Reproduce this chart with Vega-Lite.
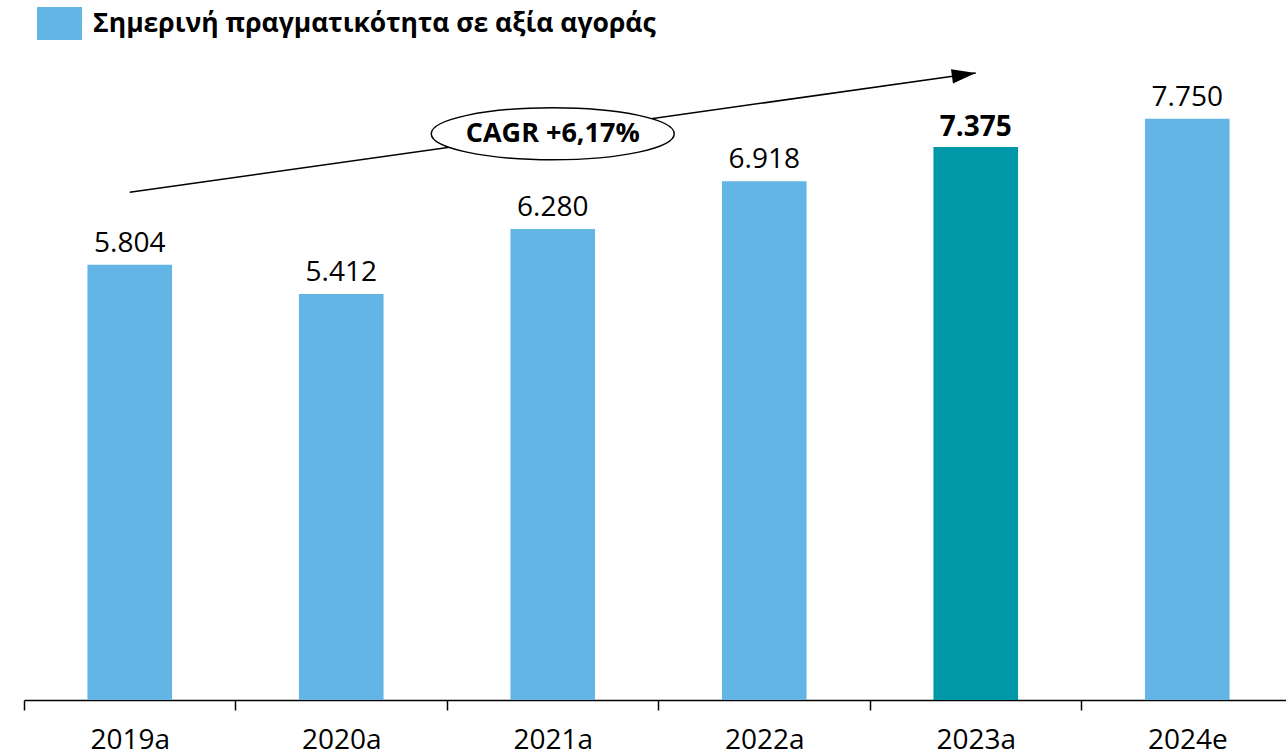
{
  "$schema": "https://vega.github.io/schema/vega-lite/v6.json",
  "width": 1269,
  "height": 675,
  "autosize": "none",
  "padding": {"left": 24, "top": 25, "right": 0, "bottom": 56},
  "background": "white",
  "config": {"view": {"stroke": null}, "font": "Open Sans"},
  "datasets": {
    "bars": [
      {"year": "2019a", "value": 5.804, "series": "Σημερινή πραγματικότητα σε αξία αγοράς"},
      {"year": "2020a", "value": 5.412, "series": "Σημερινή πραγματικότητα σε αξία αγοράς"},
      {"year": "2021a", "value": 6.280, "series": "Σημερινή πραγματικότητα σε αξία αγοράς"},
      {"year": "2022a", "value": 6.918, "series": "Σημερινή πραγματικότητα σε αξία αγοράς"},
      {"year": "2023a", "value": 7.375, "series": "Σημερινή πραγματικότητα σε αξία αγοράς"},
      {"year": "2024e", "value": 7.750, "series": "Σημερινή πραγματικότητα σε αξία αγοράς"}
    ],
    "trend": [
      {"year": "2019a", "y": 6.77},
      {"year": "2023a", "y": 8.36}
    ],
    "tip": [
      {"year": "2023a", "y": 8.36}
    ],
    "cagr": [
      {"year": "2021a", "y": 7.55, "text": "CAGR +6,17%"}
    ]
  },
  "layer": [
    {
      "data": {"name": "bars"},
      "mark": {"type": "bar"},
      "encoding": {
        "x": {
          "field": "year", "type": "nominal", "sort": null,
          "scale": {"paddingInner": 0.6, "paddingOuter": 0.3},
          "axis": {
            "title": null,
            "labelAngle": 0,
            "labelFontSize": 28,
            "labelColor": "black",
            "labelFont": "Open Sans",
            "labelPadding": 16,
            "tickSize": 10,
            "tickColor": "black",
            "tickWidth": 1.5,
            "tickOffset": -105.75,
            "labelOffset": 105.75,
            "domainColor": "black",
            "domainWidth": 1.5,
            "grid": false
          }
        },
        "y": {
          "field": "value", "type": "quantitative",
          "scale": {"domain": [0, 9], "nice": false},
          "axis": null
        },
        "color": {
          "condition": {"test": "datum.year === '2023a'", "value": "#0098A8"},
          "field": "series", "type": "nominal",
          "scale": {"range": ["#63B5E5"]},
          "legend": {
            "orient": "none",
            "legendX": 13,
            "legendY": -24,
            "title": null,
            "symbolType": "M-1,-0.733H1V0.733H-1Z",
            "symbolSize": 2025,
            "symbolStrokeWidth": 0,
            "symbolOpacity": 1,
            "labelFontSize": 26.5,
            "labelFontWeight": "bold",
            "labelColor": "black",
            "labelFont": "Open Sans",
            "labelOffset": 11,
            "labelLimit": 0,
            "padding": 0
          }
        }
      }
    },
    {
      "data": {"name": "bars"},
      "transform": [{"filter": "datum.year !== '2023a'"}],
      "mark": {"type": "text", "baseline": "alphabetic", "dy": -13, "fontSize": 28, "color": "black", "font": "Open Sans"},
      "encoding": {
        "x": {"field": "year", "type": "nominal", "sort": null},
        "y": {"field": "value", "type": "quantitative"},
        "text": {"field": "value", "type": "quantitative", "format": ".3f"}
      }
    },
    {
      "data": {"name": "bars"},
      "transform": [{"filter": "datum.year === '2023a'"}],
      "mark": {"type": "text", "baseline": "alphabetic", "dy": -11, "fontSize": 28, "fontWeight": "bold", "color": "black", "font": "Open Sans"},
      "encoding": {
        "x": {"field": "year", "type": "nominal", "sort": null},
        "y": {"field": "value", "type": "quantitative"},
        "text": {"field": "value", "type": "quantitative", "format": ".3f"}
      }
    },
    {
      "data": {"name": "trend"},
      "mark": {"type": "line", "color": "black", "strokeWidth": 1.5},
      "encoding": {
        "x": {"field": "year", "type": "nominal", "sort": null},
        "y": {"field": "y", "type": "quantitative"}
      }
    },
    {
      "data": {"name": "tip"},
      "mark": {"type": "point", "shape": "M0,0L-2,-0.6L-2,0.6Z", "size": 576, "filled": true, "color": "black", "opacity": 1, "angle": -8},
      "encoding": {
        "x": {"field": "year", "type": "nominal", "sort": null},
        "y": {"field": "y", "type": "quantitative"}
      }
    },
    {
      "data": {"name": "cagr"},
      "mark": {"type": "point", "shape": "M-1,0A1,0.214,0,1,0,1,0A1,0.214,0,1,0,-1,0Z", "size": 59049, "filled": true, "fill": "white", "stroke": "black", "strokeWidth": 1.5, "opacity": 1},
      "encoding": {
        "x": {"field": "year", "type": "nominal", "sort": null},
        "y": {"field": "y", "type": "quantitative"}
      }
    },
    {
      "data": {"name": "cagr"},
      "mark": {"type": "text", "fontSize": 27, "fontWeight": "bold", "color": "black", "font": "Open Sans", "baseline": "middle"},
      "encoding": {
        "x": {"field": "year", "type": "nominal", "sort": null},
        "y": {"field": "y", "type": "quantitative"},
        "text": {"field": "text"}
      }
    }
  ]
}
